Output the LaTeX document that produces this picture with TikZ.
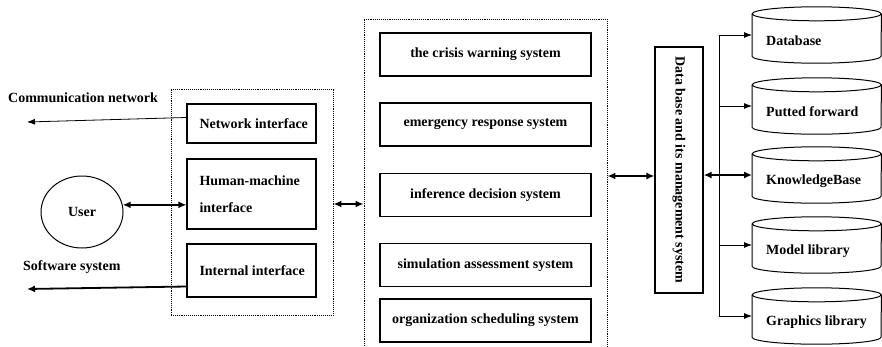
\documentclass[tikz,border=0pt]{standalone}
\usepackage{fontspec}
\setmainfont{Liberation Serif}
\usetikzlibrary{arrows.meta,calc,shapes.geometric}
\newcommand{\ind}{\hspace*{7pt}}
\begin{document}
\begin{tikzpicture}[x=1pt,y=-1pt,
  font=\bfseries\fontsize{14}{16}\selectfont,
  box/.style={draw,line width=1.1pt,rectangle,inner sep=0pt},
  grp/.style={draw,densely dotted,line width=0.9pt,rectangle,inner sep=0pt},
  thinarr/.style={-{Latex[length=8pt,width=6pt]},line width=0.8pt},
  thickarr/.style={-{Latex[length=8pt,width=7pt]},line width=1.8pt},
  dbl/.style={{Latex[length=8pt,width=7pt]}-{Latex[length=8pt,width=7pt]},line width=1.8pt},
  lbl/.style={inner sep=0pt,anchor=west},
  ifbox/.style={box,minimum width=129pt,text width=118pt,align=flush left},
  sysbox/.style={box,minimum width=211pt,minimum height=43pt},
  cylbox/.style={minimum width=129pt,minimum height=56pt,inner sep=0pt,anchor=west}]
\useasboundingbox (0,0) rectangle (882,346);

% interface group
\node[grp,minimum width=162pt,minimum height=226pt] (lgrp) at (252,202) {};
\node[ifbox,minimum height=39pt] (netif) at (251.5,123.5) {\ind Network interface};
\node[ifbox,minimum height=70pt] (hm) at (251.5,194) {\ind Human-machine\\[11pt]\ind interface};
\node[ifbox,minimum height=53pt] (intf) at (251.5,270.5) {\ind Internal interface};

% outside parties
\node[lbl] (cnl) at (8,98) {Communication network};
\node[lbl] (swl) at (23,267) {Software system};
\coordinate (cn) at (27,122);
\coordinate (sw) at (27,289);
\draw[thinarr] ([yshift=6pt]netif.west) -- (cn);
\draw[thickarr] ([yshift=-16pt]intf.west) -- (sw);

\node[draw,ellipse,line width=1pt,minimum width=82pt,minimum height=72pt,inner sep=0pt] (user) at (82,212) {User};
\draw[dbl] (user.10) -- (user.10 -| hm.west);

% application systems group
\node[grp,minimum width=243pt,minimum height=345pt] (mgrp) at (485.5,191.5) {};
\node[sysbox] (s1) at (485.5,54.5) {the crisis warning system};
\node[sysbox] (s2) at (485.5,124.5) {emergency response system};
\node[sysbox] (s3) at (485.5,195) {inference decision system};
\node[sysbox] (s4) at (485.5,265) {simulation assessment system};
\node[sysbox] (s5) at (485.5,320.5) {organization scheduling system};

\draw[dbl] ([yshift=-2pt]lgrp.east) -- ([yshift=-2pt]lgrp.east -| mgrp.west);

% database management
\node[box,minimum width=48pt,minimum height=246pt] (mgmt) at (679,170)
  {\rotatebox{-90}{Data base and its management system}};
\draw[dbl] ([yshift=-6pt]mgmt.west) -- ([yshift=-6pt]mgmt.west -| mgrp.east);

% storage cylinders
\foreach \n/\cy/\t in {1/35/Database, 2/106/Putted forward, 3/175/KnowledgeBase, 4/245/Model library, 5/316/Graphics library}{
  \node[cylbox] (c\n) at (752,\cy) {};
  \draw[line width=1pt] ($(c\n.north)+(0,7)$) ellipse [x radius=64.5, y radius=7];
  \draw[line width=1pt] ($(c\n.north west)+(0,7)$) -- ($(c\n.south west)+(0,-7)$)
     arc[start angle=180,end angle=0,x radius=64.5,y radius=7] -- ($(c\n.north east)+(0,7)$);
  \node[lbl] (t\n) at ($(c\n.west)+(14,6)$) {\t};
}
\coordinate (bus) at (719,0);
\draw[line width=0.9pt] (bus |- c1.west) -- (bus |- c5.west);
\foreach \n in {1,2,4,5}{
  \draw[thinarr] (bus |- c\n.west) -- (c\n.west);
}
\draw[dbl] (mgmt.east |- c3.west) -- (c3.west);
\end{tikzpicture}
\end{document}
